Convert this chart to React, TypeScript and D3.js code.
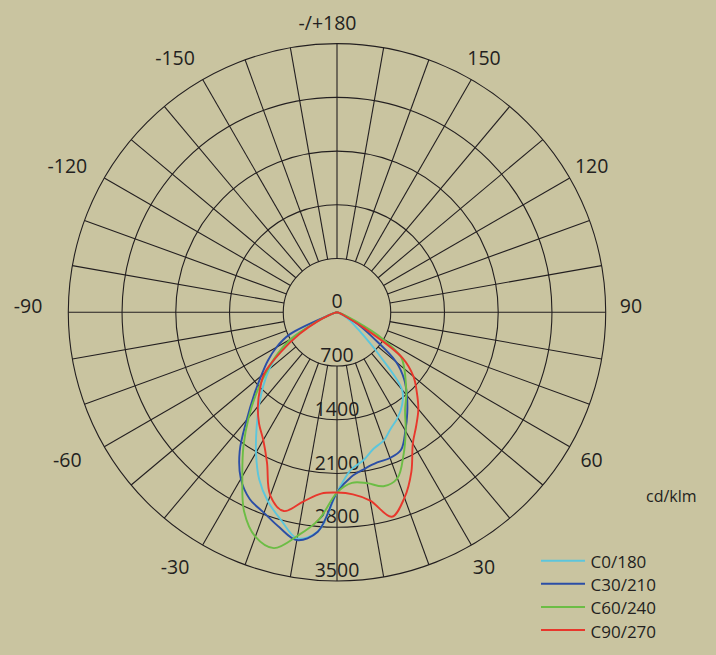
import * as d3 from "d3";

// gamma angles (deg from nadir), left half negative
const gammas = [
  -90, -85, -80, -75, -70, -65, -60, -55, -50, -45, -40, -35, -30, -25, -20, -15, -10, -5,
  0, 5, 10, 15, 20, 25, 30, 35, 40, 45, 50, 55, 60, 65, 70, 75, 80, 85, 90,
];

// cd/klm
const c0 = [
  0, 0, 0, 20, 100, 300, 680, 930, 1150, 1360, 1580, 1825, 2110, 2400, 2625, 2805, 2990, 2865,
  2348, 2060, 1960, 1840, 1777, 1665, 1583, 1477, 1320, 750, 400, 250, 150, 60, 20, 0, 0, 0, 0,
];
const c30 = [
  0, 0, 0, 20, 110, 680, 910, 1100, 1290, 1530, 1830, 2210, 2505, 2686, 2780, 2900, 3013, 2870,
  2348, 2150, 2070, 2025, 2020, 1975, 1781, 1596, 1417, 1240, 1006, 565, 320, 150, 60, 20, 0, 0, 0,
];
const c60 = [
  0, 0, 0, 20, 100, 300, 690, 945, 1195, 1480, 1790, 2124, 2466, 2863, 3110, 3180, 2955, 2710,
  2348, 2230, 2260, 2345, 2300, 2050, 1790, 1546, 1405, 1265, 1145, 1020, 674, 250, 80, 20, 0, 0, 0,
];
const c90 = [
  0, 0, 0, 30, 100, 280, 560, 880, 1233, 1420, 1604, 1770, 1921, 2158, 2540, 2680, 2500, 2370,
  2348, 2380, 2490, 2757, 2570, 2292, 1975, 1800, 1648, 1470, 1300, 1050, 400, 100, 50, 20, 0, 0, 0,
];

const seriesNames = ["C0/180", "C30/210", "C60/240", "C90/270"];
const seriesValues = [c0, c30, c60, c90];
const seriesColors = ["#5cc6dc", "#2b4ea6", "#6cbd45", "#e8372c"];

const ringValues = [700, 1400, 2100, 2800, 3500];
const radialLabels = ["0", "700", "1400", "2100", "2800", "3500"];
const spokeAngles = d3.range(0, 360, 10);
const angleLabels = [180, 150, 120, 90, 60, 30, -30, -60, -90, -120, -150];

const W = 716;
const H = 655;
const cx = 337;
const cy = 312.3;
const ink = "#231f20";
const font = "'Open Sans', 'DejaVu Sans', sans-serif";

const r = d3.scaleLinear().domain([0, 3500]).range([0, 268.7]);
const rad = (deg: number) => (deg * Math.PI) / 180;
// angle from nadir, positive to the right
const px = (deg: number, v: number) => cx + r(v) * Math.sin(rad(deg));
const py = (deg: number, v: number) => cy + r(v) * Math.cos(rad(deg));

const line = d3
  .lineRadial<number>()
  .angle((_, i) => Math.PI - rad(gammas[i]))
  .radius((v) => r(v))
  .curve(d3.curveCatmullRom.alpha(0.5));

export default function App() {
  return (
    <div style={{ position: "fixed", left: 0, top: 0 }}>
      <svg width={W} height={H} style={{ display: "block" }} fontFamily={font}>
        <rect width={W} height={H} fill="#c9c4a0" />

        {/* grid */}
        <g stroke={ink} strokeWidth={1.1} fill="none">
          {ringValues.map((v) => (
            <circle key={v} cx={cx} cy={cy} r={r(v)} />
          ))}
          {spokeAngles.map((a) => (
            <line
              key={a}
              x1={px(a, 700)}
              y1={py(a, 700)}
              x2={px(a, 3500)}
              y2={py(a, 3500)}
            />
          ))}
        </g>

        {/* radial value labels */}
        <g fill={ink} fontSize={19.5} textAnchor="middle">
          {radialLabels.map((t, i) => (
            <text key={t} x={cx} y={cy + r(i * 700) - 4}>
              {t}
            </text>
          ))}
        </g>

        {/* angle labels */}
        <g fill={ink} fontSize={19.5} textAnchor="middle" dominantBaseline="central">
          {angleLabels.map((a) => {
            const R = 3500 * (294 / 268.7);
            let dx = a < 0 ? -15 : 0;
            let dy = Math.abs(a) === 90 ? -7 : 0;
            if (a === 180) {
              dx = -9.5;
              dy = 4;
            }
            return (
              <text key={a} x={px(a, R) + dx} y={py(a, R) + dy}>
                {a === 180 ? "-/+180" : String(a)}
              </text>
            );
          })}
        </g>

        {/* curves */}
        <g transform={`translate(${cx},${cy})`} fill="none" strokeWidth={1.9} strokeLinejoin="round">
          {seriesValues.map((vals, i) => (
            <path key={seriesNames[i]} d={line(vals) ?? ""} stroke={seriesColors[i]} />
          ))}
        </g>

        <text x={646} y={501.5} fontSize={16} fill={ink}>
          cd/klm
        </text>

        {/* legend */}
        <g>
          {seriesNames.map((name, i) => {
            const y = 560.7 + i * 23.1;
            return (
              <g key={name}>
                <line x1={541} x2={585} y1={y} y2={y} stroke={seriesColors[i]} strokeWidth={2} />
                <text x={590.5} y={y + 7.5} fontSize={17} fill={ink}>
                  {name}
                </text>
              </g>
            );
          })}
        </g>
      </svg>
    </div>
  );
}
